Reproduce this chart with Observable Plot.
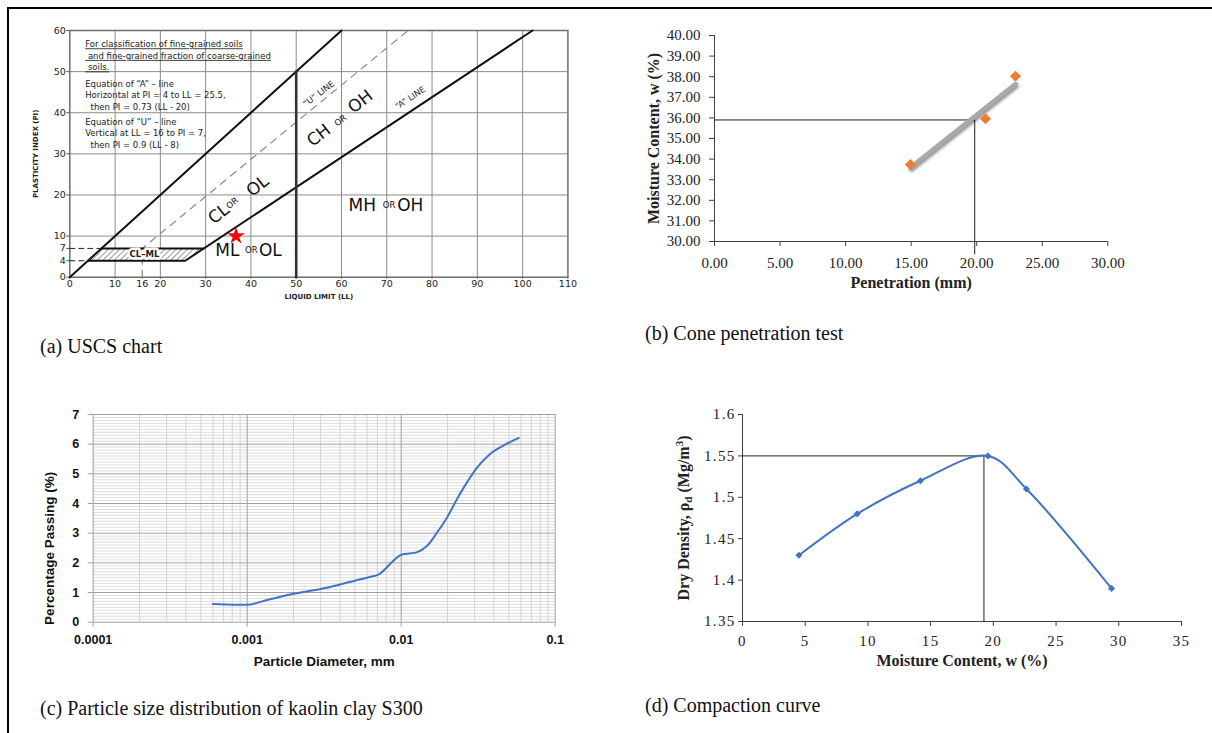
<!DOCTYPE html>
<html><head><meta charset="utf-8">
<script src="https://cdn.jsdelivr.net/npm/d3@7"></script>
<script src="https://cdn.jsdelivr.net/npm/@observablehq/plot@0.6"></script>
<style>
html,body{margin:0;padding:0;background:#fff;}
#page{position:relative;width:1212px;height:733px;overflow:hidden;background:#fff;}
.panel{position:absolute;}
.cap{position:absolute;font-family:"Liberation Serif","Times New Roman",serif;font-size:20px;color:#111;white-space:nowrap;line-height:24px;}
#border{position:absolute;left:7px;top:7px;width:1300px;height:800px;border-left:2px solid #000;border-top:2px solid #000;}
#pb g[aria-label="linear-regression"] path{filter:drop-shadow(1.5px 2px 1.5px rgba(0,0,0,0.45));}
#pd g[aria-label$="tick label"] text{letter-spacing:1.3px;}
</style></head>
<body><div id="page">
<div id="border"></div>
<div class="panel" id="pa" style="left:20px;top:20px"></div>
<div class="panel" id="pb" style="left:620px;top:20px"></div>
<div class="panel" id="pc" style="left:20px;top:400px"></div>
<div class="panel" id="pd" style="left:620px;top:400px"></div>
<div class="cap" style="left:40px;top:334px">(a) USCS chart</div>
<div class="cap" style="left:645px;top:321px">(b) Cone penetration test</div>
<div class="cap" style="left:40px;top:696px">(c) Particle size distribution of kaolin clay S300</div>
<div class="cap" style="left:645px;top:693px">(d) Compaction curve</div>
</div>
<script>
// ---------- (a) USCS chart data ----------
const LL_TICKS = [0,10,16,20,30,40,50,60,70,80,90,100,110];
const PI_TICKS = [0,4,7,10,20,30,40,50,60];
const LL_GRID = [10,20,30,40,50,60,70,80,90,100];
const PI_GRID = [10,20,30,40,50];
const UPPER_LINE = [[0,0],[60,60]];
const A_LINE = [[4,4],[25.5,4],[102.2,60]];
const U_LINE = [[16,0],[16,7],[74.7,60]];
const LL50_LINE = [[50,0],[50,50]];
const CLML_TOP = [[7,7],[29.6,7]];
const DASH_PI7 = [[0,7],[7,7]];
const DASH_PI4 = [[0,4],[4,4]];
const CLML_ZONE = [{pi:4, lo:4, hi:25.5},{pi:7, lo:7, hi:29.6}];
const SAMPLE = [{ll:36.7, pi:10}];
const ZONE_BIG_ROT = [{t:"CL",ll:32.9,pi:15.4},{t:"OL",ll:41.5,pi:22.2},{t:"CH",ll:55.0,pi:34.5},{t:"OH",ll:64.2,pi:42.7}];
const ZONE_OR_ROT = [{t:"OR",ll:35.9,pi:18.0},{t:"OR",ll:59.8,pi:38.1}];
const ZONE_BIG_FLAT = [{t:"ML",ll:34.8,pi:6.5},{t:"OL",ll:44.3,pi:6.5},{t:"MH",ll:64.6,pi:17.4},{t:"OH",ll:75.2,pi:17.4}];
const ZONE_OR_FLAT = [{t:"OR",ll:40.1,pi:6.5},{t:"OR",ll:70.5,pi:17.4}];
const U_LABEL = [{t:"\u201CU\u201D LINE",ll:55.0,pi:44.6}];
const A_LABEL = [{t:"\u201CA\u201D LINE",ll:75.2,pi:43.6}];
const CLML_LABEL = [{t:"CL\u2013ML",ll:16.5,pi:5.5}];
const NOTE_1 = "For classification of fine-grained soils\n\u00a0and fine-grained fraction of coarse-grained\n\u00a0soils.";
const NOTE_A = "Equation of \u201CA\u201D \u2013 line\nHorizontal at PI = 4 to LL = 25.5,\n\u00a0\u00a0then PI = 0.73 (LL - 20)";
const NOTE_U = "Equation of \u201CU\u201D \u2013 line\nVertical at LL = 16 to PI = 7,\n\u00a0\u00a0then PI = 0.9 (LL - 8)";

// ---------- (b) Cone penetration ----------
const PENETRATION = [14.95, 20.67, 22.96];
const MOISTURE = [33.74, 35.96, 38.02];
const CPT_X_TICKS = [0,5,10,15,20,25,30];
const CPT_Y_TICKS = [30,31,32,33,34,35,36,37,38,39,40];
const CPT_REF = [[0,35.9],[19.85,35.9],[19.85,29.4]];

// ---------- (c) Particle size distribution ----------
const PSD_DIAMETER = [0.0006,0.00082,0.00105,0.00135,0.002,0.003,0.004,0.005,0.006,0.00716,0.0079,0.00918,0.0101,0.0127,0.01475,0.01714,0.0199,0.0231,0.0268,0.0312,0.038,0.0464,0.058];
const PSD_PASSING = [0.61,0.59,0.60,0.75,0.96,1.12,1.27,1.40,1.50,1.61,1.80,2.14,2.28,2.36,2.58,3.03,3.54,4.16,4.72,5.22,5.68,5.96,6.21];
const PSD_X_TICKS = [0.0001,0.001,0.01,0.1];
const PSD_Y_TICKS = [0,1,2,3,4,5,6,7];

// ---------- (d) Compaction ----------
const MOISTURE_D = [4.5, 9.15, 14.19, 19.57, 22.64, 29.42];
const DRY_DENSITY = [1.43, 1.48, 1.52, 1.55, 1.51, 1.39];
const COMP_X_TICKS = [0,5,10,15,20,25,30,35];
const COMP_Y_TICKS = [1.35,1.4,1.45,1.5,1.55,1.6];
const COMP_REF = [[0,1.55],[19.25,1.55],[19.25,1.35]];

// ===== Panel (a) =====
const hatchDefs = () => {
  const s = d3.create("svg:defs");
  const p = s.append("pattern").attr("id","hatchCLML").attr("patternUnits","userSpaceOnUse")
    .attr("width",4).attr("height",4).attr("patternTransform","rotate(45)");
  p.append("rect").attr("width",4).attr("height",4).attr("fill","#fff");
  p.append("line").attr("x1",0).attr("y1",0).attr("x2",0).attr("y2",4).attr("stroke","#333").attr("stroke-width",1);
  return s.node();
};
const fa = "DejaVu Sans";
const plotA = Plot.plot({
  width:570, height:290, marginLeft:49.3, marginRight:22.6, marginTop:10, marginBottom:33.3,
  x:{domain:[0,110]}, y:{domain:[0,60]},
  style:{fontFamily:fa, fontSize:"9.5px", color:"#222", background:"transparent", overflow:"visible"},
  marks:[
    hatchDefs,
    Plot.ruleX(LL_GRID, {stroke:"#8c8c8c", strokeWidth:1}),
    Plot.ruleY(PI_GRID, {stroke:"#8c8c8c", strokeWidth:1}),
    Plot.frame({stroke:"#6e6e6e", strokeWidth:1.5}),
    Plot.axisX(LL_TICKS, {tickSize:2, tickPadding:1, fontSize:9.5, label:null, stroke:"#555"}),
    Plot.axisY(PI_TICKS, {tickSize:3, tickPadding:1, fontSize:9.5, label:null, stroke:"#555"}),
    Plot.line(U_LINE, {stroke:"#8a8a8a", strokeWidth:1.2, strokeDasharray:"7,6"}),
    Plot.line(DASH_PI7, {stroke:"#222", strokeWidth:1, strokeDasharray:"5,4"}),
    Plot.line(DASH_PI4, {stroke:"#222", strokeWidth:1, strokeDasharray:"5,4"}),
    Plot.areaX(CLML_ZONE, {y:"pi", x1:"lo", x2:"hi", fill:"url(#hatchCLML)"}),
    Plot.line(UPPER_LINE, {stroke:"#111", strokeWidth:2}),
    Plot.line(A_LINE, {stroke:"#111", strokeWidth:2}),
    Plot.line(CLML_TOP, {stroke:"#111", strokeWidth:2}),
    Plot.line(LL50_LINE, {stroke:"#333", strokeWidth:2.6}),
    Plot.text(CLML_LABEL, {x:"ll", y:"pi", text:"t", fontWeight:"bold", fontSize:8.5, fill:"#222", stroke:"#fff", strokeWidth:5}),
    Plot.text(ZONE_BIG_ROT, {x:"ll", y:"pi", text:"t", rotate:-38, fontSize:17, fill:"#111"}),
    Plot.text(ZONE_OR_ROT, {x:"ll", y:"pi", text:"t", rotate:-38, fontSize:8.5, fill:"#111"}),
    Plot.text(ZONE_BIG_FLAT, {x:"ll", y:"pi", text:"t", fontSize:17, fill:"#111"}),
    Plot.text(ZONE_OR_FLAT, {x:"ll", y:"pi", text:"t", fontSize:8.5, fill:"#111"}),
    Plot.text(U_LABEL, {x:"ll", y:"pi", text:"t", rotate:-37, fontSize:8.5, fill:"#222"}),
    Plot.text(A_LABEL, {x:"ll", y:"pi", text:"t", rotate:-33, fontSize:8.5, fill:"#222"}),
    Plot.dot(SAMPLE, {x:"ll", y:"pi", symbol:"star", r:5.5, fill:"#ff0000"}),
    Plot.text([NOTE_1], {x:3.4, y:57.9, textAnchor:"start", lineAnchor:"top", fontSize:8.5, lineHeight:1.36, fill:"#222"}),
    Plot.text([NOTE_A], {x:3.4, y:48.3, textAnchor:"start", lineAnchor:"top", fontSize:8.5, lineHeight:1.36, fill:"#222"}),
    Plot.text([NOTE_U], {x:3.4, y:39.1, textAnchor:"start", lineAnchor:"top", fontSize:8.5, lineHeight:1.36, fill:"#222"}),
    Plot.text(["PLASTICITY INDEX (PI)"], {frameAnchor:"left", textAnchor:"middle", dx:-34, rotate:-90, fontWeight:"bold", fontSize:7, fill:"#222"}),
    Plot.text(["LIQUID LIMIT (LL)"], {frameAnchor:"bottom", textAnchor:"middle", dy:21.5, fontWeight:"bold", fontSize:7, fill:"#222"})
  ]
});
// underline the first note lines
d3.select(plotA).selectAll("text").filter(function(){return this.textContent.startsWith("For classification");})
  .selectAll("tspan").style("text-decoration","underline");
document.getElementById("pa").appendChild(plotA);

// ===== Panel (b) =====
const cpt = PENETRATION.map((p,i)=>({pen:p, w:MOISTURE[i]}));
const serif = "Liberation Serif";
const plotB = Plot.plot({
  width:560, height:285, marginLeft:94, marginRight:72.7, marginTop:15, marginBottom:64,
  x:{domain:[0,30]}, y:{domain:[30,40]},
  style:{fontFamily:serif, fontSize:"15px", color:"#222", background:"transparent", overflow:"visible"},
  marks:[
    Plot.ruleX([0], {stroke:"#404040"}),
    Plot.ruleY([30], {stroke:"#404040"}),
    Plot.axisY(CPT_Y_TICKS, {tickSize:5, tickPadding:9, tickFormat:d=>d.toFixed(2), fontSize:15, label:null, stroke:"#404040"}),
    Plot.axisX(CPT_X_TICKS, {tickSize:5, tickPadding:11, tickFormat:d=>d.toFixed(2), fontSize:15, label:null, stroke:"#404040"}),
    Plot.line(CPT_REF, {stroke:"#222", strokeWidth:1}),
    Plot.linearRegressionY(cpt, {x:"pen", y:"w", stroke:"#a9a9a9", strokeWidth:4.5, ci:0}),
    Plot.dot(cpt, {x:"pen", y:"w", symbol:"diamond2", r:5, fill:"#ED7D31"}),
    Plot.text(["Moisture Content, w (%)"], {frameAnchor:"left", textAnchor:"middle", dx:-61, rotate:-90, fontWeight:"bold", fontSize:16, fill:"#222"}),
    Plot.text(["Penetration (mm)"], {frameAnchor:"bottom", textAnchor:"middle", dy:46, fontWeight:"bold", fontSize:16, fill:"#222"})
  ]
});
document.getElementById("pb").appendChild(plotB);

// ===== Panel (c) =====
const psd = PSD_DIAMETER.map((d,i)=>({d, p:PSD_PASSING[i]}));
const minorX = [];
for (const dec of [0.0001,0.001,0.01]) for (let k=2;k<=9;k++) minorX.push(+(k*dec).toPrecision(3));
const minorY = d3.range(0,70).map(i=>i/10).filter(v=>!Number.isInteger(v));
const sans = "Liberation Sans";
const plotC = Plot.plot({
  width:560, height:280, marginLeft:72.7, marginRight:25.3, marginTop:14, marginBottom:58.3,
  x:{type:"log", domain:[0.0001,0.1]}, y:{domain:[0,7]},
  style:{fontFamily:sans, fontSize:"12.5px", color:"#111", background:"transparent", overflow:"visible"},
  marks:[
    Plot.ruleY(minorY, {stroke:"#dedede", strokeWidth:1}),
    Plot.ruleX(minorX, {stroke:"#d4d4d4", strokeWidth:1}),
    Plot.ruleY(PSD_Y_TICKS, {stroke:"#a0a0a0", strokeWidth:1}),
    Plot.ruleX(PSD_X_TICKS, {stroke:"#a0a0a0", strokeWidth:1}),
    Plot.axisY(PSD_Y_TICKS, {tickSize:5, tickPadding:9, fontSize:12.5, fontWeight:"bold", label:null, stroke:"#a0a0a0"}),
    Plot.axisX(PSD_X_TICKS, {tickSize:5, tickPadding:8, tickFormat:d=>String(d), fontSize:12.5, fontWeight:"bold", label:null, stroke:"#a0a0a0"}),
    Plot.line(psd, {x:"d", y:"p", stroke:"#4472C4", strokeWidth:2, curve:"catmull-rom"}),
    Plot.text(["Percentage Passing (%)"], {frameAnchor:"left", textAnchor:"middle", dx:-43.5, dy:30, rotate:-90, fontWeight:"bold", fontSize:13.5, fill:"#111"}),
    Plot.text(["Particle Diameter, mm"], {frameAnchor:"bottom", textAnchor:"middle", dy:43.5, fontWeight:"bold", fontSize:13.5, fill:"#111"})
  ]
});
document.getElementById("pc").appendChild(plotC);

// ===== Panel (d) =====
const comp = MOISTURE_D.map((w,i)=>({w, rho:DRY_DENSITY[i]}));
const Y_TITLE_D = "Dry Density, \u03C1d (Mg/m3)";
const plotD = Plot.plot({
  width:580, height:280, marginLeft:122, marginRight:19, marginTop:14, marginBottom:59,
  x:{domain:[0,35]}, y:{domain:[1.35,1.6]},
  style:{fontFamily:serif, fontSize:"15px", color:"#222", background:"transparent", overflow:"visible"},
  marks:[
    Plot.ruleX([0], {stroke:"#404040"}),
    Plot.ruleY([1.35], {stroke:"#404040"}),
    Plot.axisY(COMP_Y_TICKS, {tickSize:4, tickPadding:3, tickFormat:d=>String(d), fontSize:15, label:null, stroke:"#404040"}),
    Plot.axisX(COMP_X_TICKS, {tickSize:5, tickPadding:9, tickFormat:d=>String(d), fontSize:15, label:null, stroke:"#404040"}),
    Plot.line(COMP_REF, {stroke:"#222", strokeWidth:1}),
    Plot.line(comp, {x:"w", y:"rho", stroke:"#4472C4", strokeWidth:2, curve:"catmull-rom"}),
    Plot.dot(comp, {x:"w", y:"rho", symbol:"diamond2", r:3.2, fill:"#4472C4"}),
    Plot.text([Y_TITLE_D], {frameAnchor:"left", textAnchor:"middle", dx:-58.5, rotate:-90, fontWeight:"bold", fontSize:16, fill:"#222"}),
    Plot.text(["Moisture Content, w (%)"], {frameAnchor:"bottom", textAnchor:"middle", dy:44, fontWeight:"bold", fontSize:16, fill:"#222"})
  ]
});
d3.select(plotD).selectAll("text").filter(function(){return this.textContent===Y_TITLE_D;}).each(function(){
  const t = d3.select(this); t.text(null);
  t.append("tspan").text("Dry Density, \u03C1");
  t.append("tspan").attr("font-size","11px").attr("dy","3").text("d");
  t.append("tspan").attr("dy","-3").text(" (Mg/m");
  t.append("tspan").attr("font-size","11px").attr("dy","-6").text("3");
  t.append("tspan").attr("dy","6").text(")");
});
document.getElementById("pd").appendChild(plotD);
</script>
</body></html>
